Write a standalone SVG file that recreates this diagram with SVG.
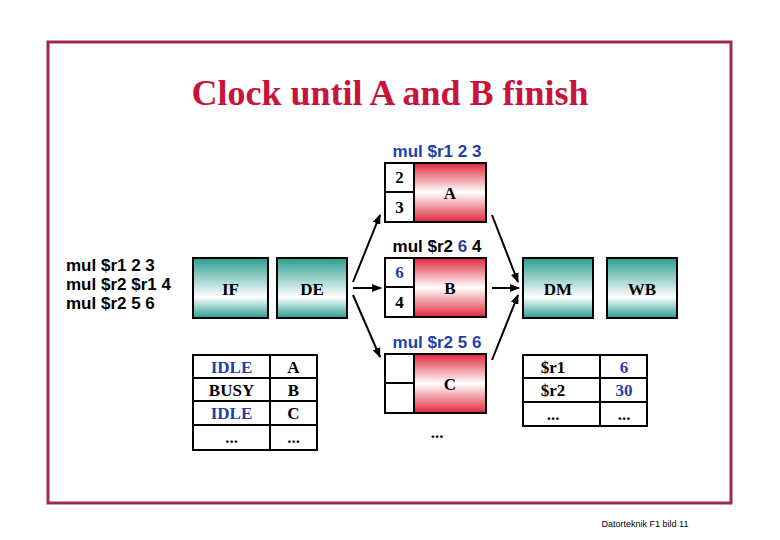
<svg xmlns="http://www.w3.org/2000/svg" width="780" height="540" viewBox="0 0 780 540">
  <defs>
    <linearGradient id="red" x1="0" y1="0" x2="0" y2="1">
      <stop offset="0" stop-color="#e0283c"/>
      <stop offset="0.5" stop-color="#ffffff"/>
      <stop offset="1" stop-color="#e0283c"/>
    </linearGradient>
    <linearGradient id="teal" x1="0" y1="0" x2="0" y2="1">
      <stop offset="0" stop-color="#2a9d90"/>
      <stop offset="0.65" stop-color="#ffffff"/>
      <stop offset="1" stop-color="#2a9d90"/>
    </linearGradient>
    <marker id="ah" markerWidth="10" markerHeight="8" refX="9" refY="4" orient="auto" markerUnits="userSpaceOnUse">
      <path d="M0,0 L10,4 L0,8 Z" fill="#000"/>
    </marker>
  </defs>
  <style>
    .box { stroke: #000; stroke-width: 2; }
    .cell { fill: #fff; stroke: #000; stroke-width: 2; }
    .tb { font-family: "Liberation Serif", "Times New Roman", serif; font-weight: bold; font-size: 17px; text-anchor: middle; }
    .ar { font-family: "Liberation Sans", Arial, sans-serif; font-weight: bold; font-size: 17px; }
    .blue { fill: #1f3fa8; }
    .conn line { stroke: #000; stroke-width: 2; marker-end: url(#ah); }
    .grid { fill: none; stroke: #000; stroke-width: 2; }
  </style>
  <rect x="0" y="0" width="780" height="540" fill="#fff"/>
  <rect x="48" y="42" width="683" height="461" fill="none" stroke="#9b2b4c" stroke-width="3"/>
  <text x="390" y="105" font-family="Liberation Serif, Times New Roman, serif" font-size="36" font-weight="bold" fill="#c8143a" text-anchor="middle">Clock until A and B finish</text>

  <g id="program">
    <text class="ar" x="66" y="271" font-size="16.5">mul $r1 2 3</text>
    <text class="ar" x="66" y="290" font-size="16.5">mul $r2 $r1 4</text>
    <text class="ar" x="66" y="309" font-size="16.5">mul $r2 5 6</text>
  </g>

  <g id="IF">
    <rect class="box" x="193" y="258" width="75" height="60" fill="url(#teal)"/>
    <text class="tb" x="230.5" y="295">IF</text>
  </g>
  <g id="DE">
    <rect class="box" x="277" y="258" width="70" height="60" fill="url(#teal)"/>
    <text class="tb" x="312" y="295">DE</text>
  </g>
  <g id="DM">
    <rect class="box" x="523" y="258" width="70" height="60" fill="url(#teal)"/>
    <text class="tb" x="558" y="295">DM</text>
  </g>
  <g id="WB">
    <rect class="box" x="607" y="258" width="70" height="60" fill="url(#teal)"/>
    <text class="tb" x="642" y="295">WB</text>
  </g>

  <g id="unitA">
    <text class="ar blue" x="437" y="157" text-anchor="middle">mul $r1 2 3</text>
    <rect class="box" x="414" y="163" width="72" height="59" fill="url(#red)"/>
    <rect class="cell" x="385" y="163" width="29" height="29"/>
    <rect class="cell" x="385" y="192" width="29" height="30"/>
    <text class="tb" x="399.5" y="183">2</text>
    <text class="tb" x="399.5" y="213">3</text>
    <text class="tb" x="450" y="199">A</text>
  </g>
  <g id="unitB">
    <text class="ar" x="437" y="252" text-anchor="middle">mul $r2 <tspan class="blue">6</tspan> 4</text>
    <rect class="box" x="414" y="258" width="72" height="59" fill="url(#red)"/>
    <rect class="cell" x="385" y="258" width="29" height="29"/>
    <rect class="cell" x="385" y="287" width="29" height="30"/>
    <text class="tb blue" x="399.5" y="278">6</text>
    <text class="tb" x="399.5" y="308">4</text>
    <text class="tb" x="450" y="294">B</text>
  </g>
  <g id="unitC">
    <text class="ar blue" x="437" y="348" text-anchor="middle">mul $r2 5 6</text>
    <rect class="box" x="414" y="354" width="72" height="59" fill="url(#red)"/>
    <rect class="cell" x="385" y="354" width="29" height="29"/>
    <rect class="cell" x="385" y="383" width="29" height="30"/>
    <text class="tb" x="450" y="390">C</text>
    <text class="tb" x="437" y="438">...</text>
  </g>

  <g id="statusTable">
    <rect class="grid" x="193" y="355" width="124" height="95"/>
    <line class="grid" x1="270" y1="355" x2="270" y2="450"/>
    <line class="grid" x1="193" y1="378" x2="317" y2="378"/>
    <line class="grid" x1="193" y1="401" x2="317" y2="401"/>
    <line class="grid" x1="193" y1="425" x2="317" y2="425"/>
    <text class="tb blue" x="231.5" y="373">IDLE</text>
    <text class="tb" x="231.5" y="396">BUSY</text>
    <text class="tb blue" x="231.5" y="419">IDLE</text>
    <text class="tb" x="231.5" y="443">...</text>
    <text class="tb" x="293.5" y="373">A</text>
    <text class="tb" x="293.5" y="396">B</text>
    <text class="tb" x="293.5" y="419">C</text>
    <text class="tb" x="293.5" y="443">...</text>
  </g>

  <g id="regTable">
    <rect class="grid" x="523" y="355" width="124" height="71"/>
    <line class="grid" x1="600" y1="355" x2="600" y2="426"/>
    <line class="grid" x1="523" y1="378" x2="647" y2="378"/>
    <line class="grid" x1="523" y1="402" x2="647" y2="402"/>
    <text class="tb" x="553" y="373">$r1</text>
    <text class="tb" x="553" y="396">$r2</text>
    <text class="tb" x="553" y="420">...</text>
    <text class="tb blue" x="624" y="373">6</text>
    <text class="tb blue" x="624" y="396">30</text>
    <text class="tb" x="624" y="420">...</text>
  </g>

  <g id="connectors" class="conn">
    <line x1="353" y1="282" x2="380" y2="215"/>
    <line x1="353" y1="288" x2="381" y2="288"/>
    <line x1="353" y1="295" x2="380" y2="357"/>
    <line x1="492" y1="215" x2="518" y2="282"/>
    <line x1="492" y1="288" x2="519" y2="288"/>
    <line x1="492" y1="360" x2="518" y2="295"/>
  </g>

  <text x="645" y="527" font-family="Liberation Sans, Arial, sans-serif" font-size="9" text-anchor="middle" fill="#000">Datorteknik F1 bild 11</text>
</svg>
